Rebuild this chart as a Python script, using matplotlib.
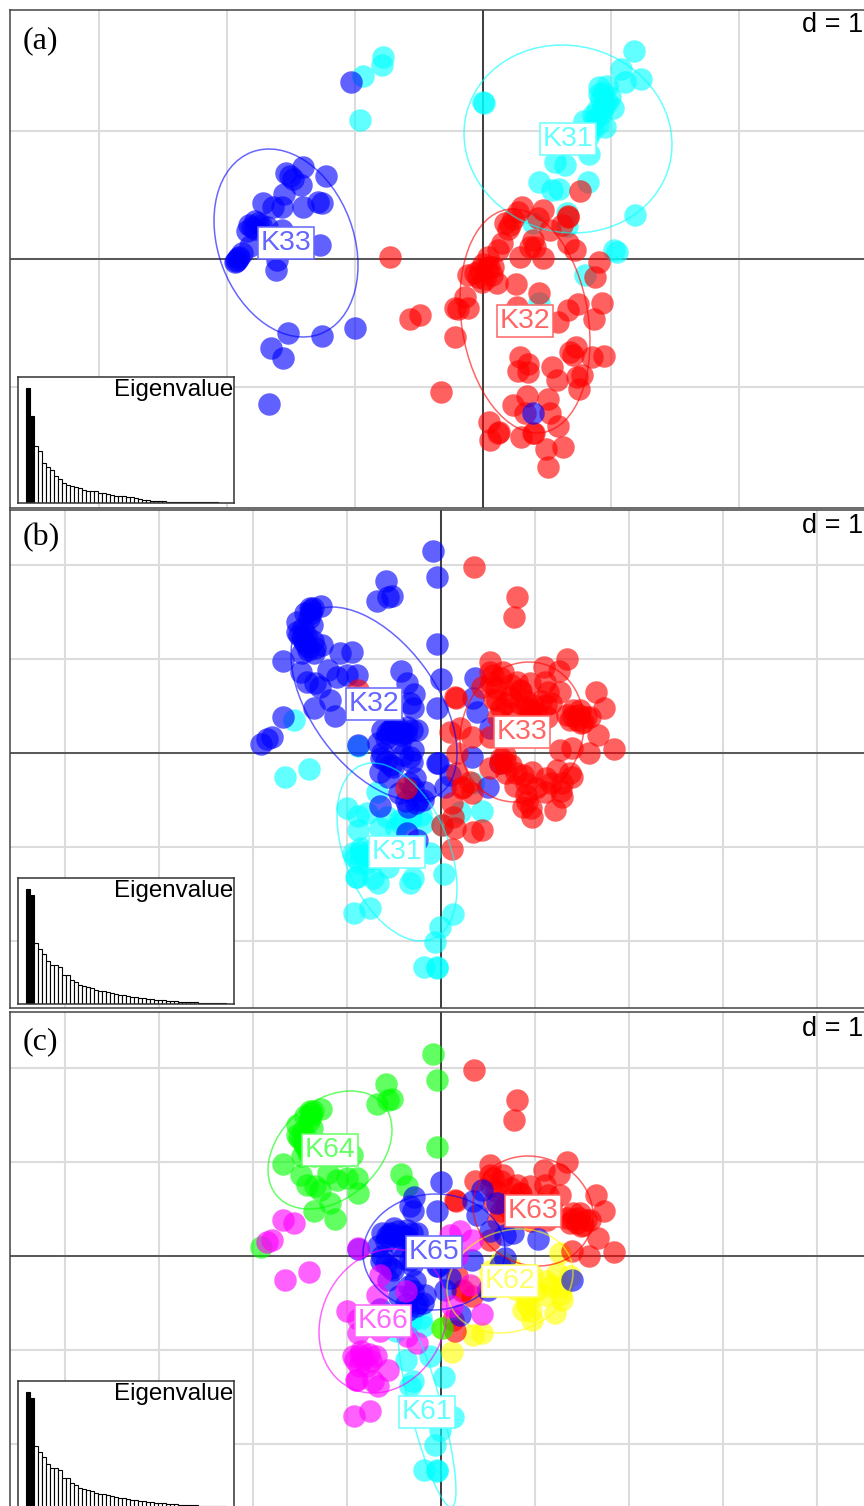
import numpy as np
import matplotlib
matplotlib.use("Agg")
import matplotlib.pyplot as plt
from matplotlib.patches import Ellipse

W, H = 864, 1506

cols = {"cyan": "#00ffff", "blue": "#0000ff", "red": "#ff0000",
        "green": "#00ff00", "yellow": "#ffff00", "magenta": "#ff00ff"}

# panel (a): scores, grid step d = 128
a_k31 = [(-100,202),(-101,194),(-120,183),(-123,139),(151,208),(138,190),(158,180),(142,177),(116,172),
         (124,173),(120,166),(127,162),(124,157),(130,151),(114,149),(120,151),(110,144),(101,138),(122,132),
         (109,129),(105,122),(106,105),(72,97),(82,94),(105,77),(56,77),(69,69),(76,70),(0,157),(1,156),
         (84,46),(152,44),(50,36),(131,9),(134,7),(84,33),(102,-16),(56,-44),
         (116,165),(118,160),(122,155),(118,145),(112,140),(115,135)]
a_k32 = [(39,52),(35,47),(60,49),(55,41),(85,43),(85,42),(97,68),(22,36),(27,34),(67,29),(79,34),(19,16),(15,9),
         (50,19),(47,12),(52,12),(85,16),(92,9),(37,2),(60,1),(116,-3),(5,2),(-93,2),(112,-18),(-15,-16),(-3,-11),
         (4,-9),(9,-16),(-1,-23),(14,-24),(33,-25),(56,-34),(-18,-38),(-15,-49),(-28,-49),(-25,-50),(-73,-60),
         (-63,-56),(-28,-78),(34,-48),(75,-63),(85,-51),(95,-45),(119,-44),(111,-60),(93,-88),(87,-93),(90,-96),
         (109,-98),(121,-97),(37,-98),(35,-112),(45,-113),(69,-108),(74,-121),(99,-116),(94,-118),(96,-130),
         (-42,-133),(44,-137),(30,-146),(65,-140),(42,-154),(67,-154),(6,-163),(16,-173),(15,-174),(7,-181),
         (38,-178),(50,-174),(51,-174),(75,-167),(63,-190),(80,-188),(65,-208),
         (0,-5),(-8,-14),(2,-20),(6,-8),(-5,-18),(10,-8),(25,30),(30,40),(45,-105)]
a_k33 = [(-180,92),(-197,86),(-193,83),(-182,74),(-157,83),(-199,65),(-220,56),(-210,52),(-201,52),(-180,52),
         (-165,57),(-161,56),(-234,34),(-228,38),(-231,32),(-225,36),(-216,32),(-201,29),(-163,14),(-233,13),
         (-241,6),(-246,-1),(-248,-3),(-245,1),(-206,-1),(-207,-11),(-195,-74),(-161,-77),(-128,-69),(-212,-89),
         (-200,-99),(-214,-145),(-132,177),(50,-154),(-228,30),(-222,34),(-236,28),(-247,-2),(-244,2),(-190,80)]

# panels (b) and (c) plot the same individuals, grid step d = 94. names are k3 group, k6 group
k32_k64 = [(-8,202),(-4,176),(-55,172),(-64,152),(-53,156),(-49,157),(-120,147),(-130,143),(-136,140),(-131,145),
           (-129,128),(-144,131),(-144,121),(-139,116),(-136,110),(-119,108),(-126,105),(-133,103),(-139,100),
           (-158,92),(-101,100),(-89,101),(-4,109),(-140,81),(-134,71),(-126,70),(-121,66),(-113,83),(-104,76),
           (-94,78),(-84,78),(-111,53),(-127,45),(-106,37),(-40,82),(-34,70),(-180,9),
           (-132,135),(-138,125),(-142,118),(-137,112),(-133,106),(-128,112),(-135,118),(-130,140),(-128,145),(-127,100)]
k32_k66 = [(-158,36),(-169,16),(-174,14),(-83,8),(-61,-19),(-34,-80),(-24,-87)]
k32_k65 = [(0,74),(-27,59),(-31,50),(-4,45),(-28,45),(-59,23),(-51,23),(-43,25),(-34,26),(-38,20),(-29,23),(-24,23),
           (-54,20),(-63,10),(-41,10),(-28,3),(-59,0),(-31,-4),(-4,-10),(-53,-24),(-48,-14),(-38,-2),(-26,-25),
           (-29,-9),(-16,-39),(-23,-47),(-33,-54),(-18,-47),(-3,-10),(4,-34),(-61,-53),(32,55),(36,41),(49,25),
           (31,-4),(59,-10),(47,-34),(9,-22),
           (-50,22),(-45,20),(-40,18),(-35,20),(-47,28),(-55,15),(-60,-5),(-55,-8),(-50,-12),(-42,-40),(-35,-48),
           (-28,-35),(-32,-30),(-25,-50)]
k32_k63 = [(34,75)]
k33_k63 = [(33,186),(76,156),(73,136),(49,91),(49,81),(52,78),(62,81),(76,71),(89,70),(103,86),(126,94),(118,82),
           (104,71),(107,61),(119,61),(155,61),(163,45),(14,56),(53,54),(69,56),(86,45),(89,43),(79,63),(106,36),
           (132,43),(139,43),(129,33),(149,36),(142,31),(136,33),(57,36),(49,16),(157,18),(131,5),(148,0),(173,4),
           (16,-20),(21,-35),(31,-40),(22,-34),(12,-64),(14,-75),(15,55),
           (60,75),(70,68),(80,62),(85,52),(92,48),(95,40),(100,52),(78,50),(65,50),(60,45),(72,40),(90,35),(105,48),
           (132,37),(138,38),(145,36),(126,38),(140,30),(55,65),(110,50),(50,70)]
k33_k65 = [(41,66),(56,53),(72,23),(64,21),(97,17),(64,-2),(131,-24)]
k33_k62 = [(64,-9),(59,-10),(49,-15),(91,-19),(82,-22),(116,-17),(129,-20),(121,-30),(74,-33),(104,-39),(121,-44),
           (86,-49),(82,-54),(114,-57),(91,-64),(119,3),(11,-96),(32,-79),(41,-77),
           (60,-5),(70,-12),(85,-30),(95,-35),(75,-20),(65,-20),(110,-30),(90,-55),(85,-42),(105,-25),(120,-38)]
k33_k66 = [(9,21),(19,25),(31,16),(16,0),(-35,-35),(11,-50),(29,-29)]
k33_k64 = [(-83,63),(1,-72)]
k31_k66 = [(-156,-24),(-132,-16),(-94,-55),(-83,-63),(-74,-60),(-64,-39),(-83,-77),(-88,-100),(-86,-104),(-81,-99),
           (-74,-110),(-85,-124),(-84,-124),(-68,-125),(-63,-130),(-87,-160),(-71,-155),(-54,-64),(-61,-75),
           (-53,-114),(-147,33),(41,-58),(-80,-95),(-78,-103),(-72,-98),(-65,-100),(-82,-110),(-70,-105)]
k31_k61 = [(-18,-70),(-11,-100),(-28,-125),(-31,-130),(3,-121),(12,-161),(-1,-174),(-6,-189),(-17,-214),(-4,-214),
           (-4,-215),(-35,-104),(-40,-70),(-30,-65),(-20,-62),(-45,-75)]
k31_k65 = [(-83,7),(-41,-67),(19,-59)]
k31_k62 = [(1,-72),(32,-30)]

# eigenvalue screeplots
eig_a = [345,260,172,157,120,108,100,80,72,60,55,52,47,45,40,37,35,35,30,30,27,25,22,20,20,18,17,15,12,10,8,7,6,5,5,
         4,4,3,3,3,2,2,2,2,2,2,2,2,1,1]
eig_b = [345,328,182,165,150,130,117,117,112,87,87,72,65,58,55,50,47,43,40,38,35,33,30,28,26,24,22,20,18,17,16,14,
         13,12,11,10,9,8,7,6,6,5,5,4,4,3,3,2,2,2]

# ellipses: name, colour, centre x, centre y, half width, half height, x offset of the top point
ell_a = [("K31", "cyan", 85, 120, 104, 94, -6), ("K32", "red", 42, -62, 65, 112, -12),
         ("K33", "blue", -197, 16, 72, 94, -17)]
ell_b = [("K31", "cyan", -44, -99, 60, 89, -24), ("K32", "blue", -67, 49, 83, 97, -42),
         ("K33", "red", 81, 21, 62, 70, 7)]
ell_c = [("K61", "cyan", -14, -156, 29, 95, -24), ("K62", "yellow", 69, -25, 63, 52, 10),
         ("K63", "red", 92, 45, 60, 55, -5), ("K64", "green", -111, 106, 62, 59, 21),
         ("K65", "blue", -7, 4, 71, 58, 2), ("K66", "magenta", -58, -65, 64, 72, 10)]


def add_axes(left, top, right, bottom):
    return plt.gcf().add_axes([left / W, 1 - bottom / H, (right - left) / W, (bottom - top) / H])


def scatter(ax, pts, col):
    pts = np.array(pts)
    ax.scatter(pts[:, 0], pts[:, 1], s=262, color=cols[col], alpha=0.62, linewidths=0, zorder=3)


def ellipse(ax, name, col, cx, cy, hw, hh, xtop):
    cov = np.array([[hw ** 2, xtop * hh], [xtop * hh, hh ** 2]])
    vals, vecs = np.linalg.eigh(cov)
    angle = np.degrees(np.arctan2(vecs[1, 1], vecs[0, 1]))
    ax.add_patch(Ellipse((cx, cy), 2 * np.sqrt(vals[1]), 2 * np.sqrt(vals[0]), angle=angle, fill=False,
                         edgecolor=cols[col], alpha=0.6, lw=1.1, zorder=4))
    face = matplotlib.colors.to_rgb(cols[col])
    soft = tuple(0.4 + 0.6 * c for c in face)
    ax.text(cx, cy, name, ha="center", va="center", color=soft, fontsize=20.5, zorder=6,
            family="Liberation Sans",
            bbox=dict(boxstyle="square,pad=0.1", fc="white", ec=soft, lw=1.1))


def panel(top, bottom, ox, oy, step, tag, tag_y, d_y, eig, ins_top):
    ax = add_axes(10, top, 872, bottom)
    ax.set_xticks(np.arange(-8, 9) * step)
    ax.set_yticks(np.arange(-8, 9) * step)
    ax.set_xlim(10 - ox, 872 - ox)
    ax.set_ylim(oy - bottom, oy - top)
    ax.tick_params(length=0, labelleft=False, labelbottom=False)
    ax.grid(True, color="#dcdcdc", lw=1.5, zorder=0)
    ax.set_axisbelow(True)
    ax.axhline(0, color="#333333", lw=1.1, zorder=1)
    ax.axvline(0, color="#222222", lw=1.2, zorder=1)
    for s in ax.spines.values():
        s.set_color("#444444")
        s.set_linewidth(1.1)
    fig.text(23 / W, 1 - tag_y / H, tag, family="Liberation Serif", fontsize=23, va="center", ha="left", zorder=9)
    fig.text(802 / W, 1 - d_y / H, "d = 1", family="Liberation Sans", fontsize=19.5, va="center", ha="left", zorder=9)

    ins = add_axes(18, ins_top, 234, ins_top + 126)
    ins.set_zorder(5)
    ins.set_xlim(0, 54)
    ins.set_ylim(0, 378)
    ins.set_xticks([])
    ins.set_yticks([])
    colors = ["black"] * 2 + ["white"] * (len(eig) - 2)
    ins.bar(np.arange(len(eig)) + 2.5, eig, width=0.9, color=colors, edgecolor="black", lw=0.8)
    ins.text(0.995, 0.90, "Eigenvalue", transform=ins.transAxes, ha="right", va="center",
             fontsize=17.4, family="Liberation Sans")
    for s in ins.spines.values():
        s.set_color("#333333")
        s.set_linewidth(1.1)
    return ax


fig = plt.figure(figsize=(W / 100, H / 100), dpi=100)

# (a)
ax = panel(10, 508, 483, 259, 128, "(a)", 41, 25, eig_a, 377)
scatter(ax, a_k31, "cyan")
scatter(ax, a_k32, "red")
scatter(ax, a_k33, "blue")
for e in ell_a:
    ellipse(ax, *e)

# (b)
ax = panel(510, 1008, 441, 753, 94, "(b)", 538, 526, eig_b, 878)
scatter(ax, k31_k66 + k31_k61 + k31_k65 + k31_k62, "cyan")
scatter(ax, k32_k64 + k32_k66 + k32_k65 + k32_k63, "blue")
scatter(ax, k33_k63 + k33_k65 + k33_k62 + k33_k66 + k33_k64, "red")
for e in ell_b:
    ellipse(ax, *e)

# (c)
ax = panel(1012, 1514, 441, 1256, 94, "(c)", 1042, 1029, eig_b, 1381)
scatter(ax, k31_k61, "cyan")
scatter(ax, k33_k62 + k31_k62, "yellow")
scatter(ax, k33_k63 + k32_k63, "red")
scatter(ax, k32_k64 + k33_k64, "green")
scatter(ax, k32_k65 + k33_k65 + k31_k65, "blue")
scatter(ax, k31_k66 + k32_k66 + k33_k66, "magenta")
for e in ell_c:
    ellipse(ax, *e)

fig.savefig("out.png", dpi=100)
